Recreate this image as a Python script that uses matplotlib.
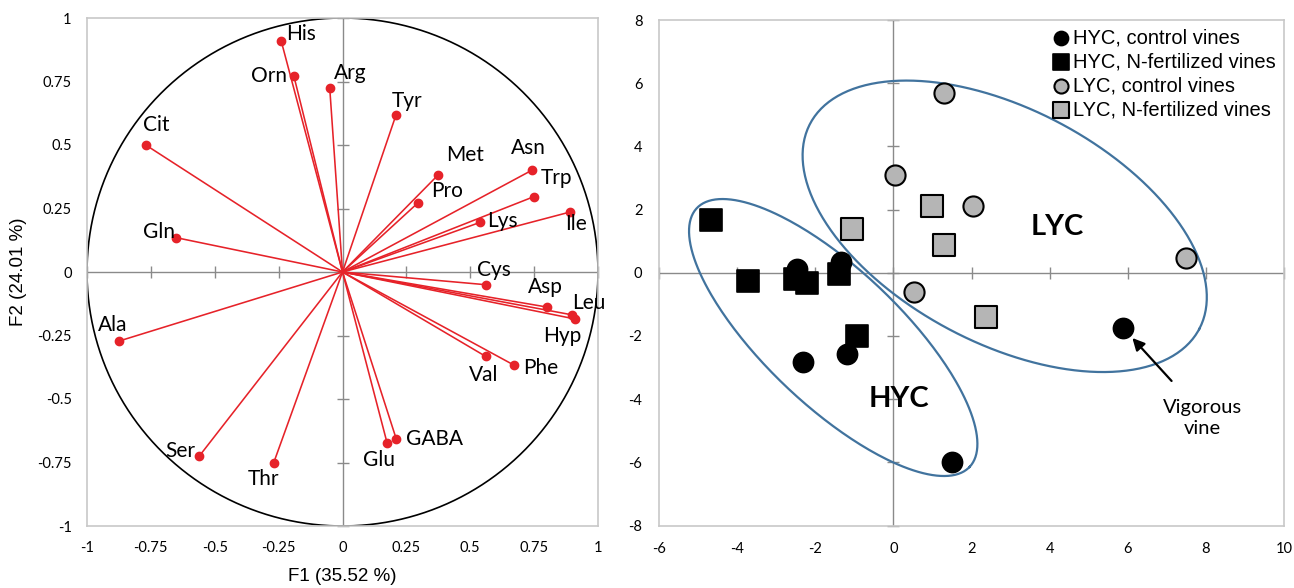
import numpy as np
import matplotlib
matplotlib.use("Agg")
import matplotlib.pyplot as plt

plt.rcParams['axes.unicode_minus'] = False

# loadings of the amino acids on F1 / F2 (correlation circle)
amino_acids = ['His', 'Orn', 'Arg', 'Tyr', 'Cit', 'Met', 'Asn', 'Pro', 'Trp', 'Lys', 'Ile', 'Gln',
               'Cys', 'Asp', 'Leu', 'Hyp', 'Val', 'Phe', 'Ala', 'Ser', 'Thr', 'Glu', 'GABA']
f1_loadings = [-0.24, -0.19, -0.05, 0.21, -0.77, 0.375, 0.74, 0.295, 0.75, 0.54, 0.89, -0.65,
               0.56, 0.80, 0.90, 0.91, 0.56, 0.67, -0.875, -0.56, -0.27, 0.175, 0.21]
f2_loadings = [0.91, 0.77, 0.725, 0.62, 0.50, 0.383, 0.40, 0.272, 0.297, 0.196, 0.236, 0.135,
               -0.05, -0.138, -0.169, -0.185, -0.332, -0.366, -0.272, -0.724, -0.753, -0.675, -0.656]

# scores of the vines on F1 / F2
hyc_control_x = [-2.46, -1.34, -2.31, -1.2, 1.49, 5.88]
hyc_control_y = [0.12, 0.35, -2.81, -2.57, -5.98, -1.74]
hyc_nfert_x = [-4.66, -3.72, -2.52, -2.2, -1.38, -0.93]
hyc_nfert_y = [1.67, -0.26, -0.21, -0.34, -0.04, -1.99]
lyc_control_x = [1.29, 0.03, 2.03, 7.48, 0.54]
lyc_control_y = [5.70, 3.09, 2.1, 0.47, -0.62]
lyc_nfert_x = [-1.06, 0.98, 1.29, 2.38]
lyc_nfert_y = [1.37, 2.12, 0.88, -1.39]

series_labels = ['HYC, control vines', 'HYC, N-fertilized vines',
                 'LYC, control vines', 'LYC, N-fertilized vines']

circle_ticks = np.arange(-1, 1.01, 0.25)
score_ticks = np.arange(-8, 8.1, 2)
score_xticks = np.arange(-6, 10.1, 2)

# where each loading label sits relative to its point (pixels)
label_offsets = {
    'His': (20, 7), 'Orn': (-25, 0), 'Arg': (21, 15), 'Tyr': (11, 14), 'Cit': (10, 20),
    'Met': (27, 20), 'Asn': (-3, 22), 'Pro': (29, 12), 'Trp': (22, 19), 'Lys': (22, 1),
    'Ile': (6, -12), 'Gln': (-17, 6), 'Cys': (8, 15), 'Asp': (-2, 20), 'Leu': (16, 12),
    'Hyp': (-13, -17), 'Val': (-2, -19), 'Phe': (27, -3), 'Ala': (-6, 16), 'Ser': (-19, 5),
    'Thr': (-10, -16), 'Glu': (-8, -17), 'GABA': (38, 0),
}

RED = '#E62229'
FRAME = '#C8C8C8'
ZERO = '#8A8A8A'
BLUE = '#41739E'
GREY_FILL = '#B5B5B5'
TICK_FONT = dict(family='Lato', size=10.5)


def excel_style(ax, xticks, yticks, tick_len):
    for s in ax.spines.values():
        s.set_color(FRAME)
        s.set_linewidth(1.2)
    ax.axhline(0, color=ZERO, lw=1.0, zorder=1)
    ax.axvline(0, color=ZERO, lw=1.0, zorder=1)
    ax.plot(np.zeros(len(yticks)), yticks, ls='none', marker='_', ms=tick_len, mew=1.0,
            color=ZERO, zorder=1, clip_on=False)
    ax.plot(xticks, np.zeros(len(xticks)), ls='none', marker='|', ms=tick_len, mew=1.0,
            color=ZERO, zorder=1, clip_on=False)
    ax.set_xticks(xticks)
    ax.set_yticks(yticks)
    ax.set_xticklabels(['{:g}'.format(v) for v in xticks], fontdict=TICK_FONT)
    ax.set_yticklabels(['{:g}'.format(v) for v in yticks], fontdict=TICK_FONT)
    ax.tick_params(length=0, pad=11)


def tilted_ellipse(ax, cx, cy, a_px, b_px, angle_deg, **kw):
    t = np.linspace(0, 2 * np.pi, 300)
    th = np.radians(angle_deg)
    dx = a_px * np.cos(t) * np.cos(th) - b_px * np.sin(t) * np.sin(th)
    dy = a_px * np.cos(t) * np.sin(th) + b_px * np.sin(t) * np.cos(th)
    centre = ax.transData.transform((cx, cy))
    pts = ax.transData.inverted().transform(np.column_stack([centre[0] + dx, centre[1] + dy]))
    ax.plot(pts[:, 0], pts[:, 1], color=BLUE, lw=1.6, zorder=2)


fig = plt.figure(figsize=(12.94, 5.88), dpi=100)

# ---- correlation circle ----
ax1 = fig.add_axes([87 / 1294, 1 - 526 / 588, 511 / 1294, 508 / 588])
ax1.set_xlim(-1, 1)
ax1.set_ylim(-1, 1)
excel_style(ax1, circle_ticks, circle_ticks, 8)

theta = np.linspace(0, 2 * np.pi, 400)
ax1.plot(np.cos(theta), np.sin(theta), color='black', lw=1.2, zorder=2)

for name, x, y in zip(amino_acids, f1_loadings, f2_loadings):
    ax1.plot([0, x], [0, y], color=RED, lw=1.15, zorder=3)
    ax1.plot(x, y, 'o', color=RED, ms=6, zorder=4)
    ax1.annotate(name, (x, y), xytext=label_offsets[name], textcoords='offset pixels',
                 ha='center', va='center', family='Lato', fontsize=15, zorder=5)

ax1.set_xlabel('F1 (35.52 %)', family='Liberation Sans', fontsize=13.5, va='center')
ax1.xaxis.set_label_coords(0.5, -0.1)
ax1.set_ylabel('F2 (24.01 %)', family='Liberation Sans', fontsize=13.5, va='center')
ax1.yaxis.set_label_coords(-0.135, 0.5)

# ---- score plot ----
ax2 = fig.add_axes([659 / 1294, 1 - 525.5 / 588, 625 / 1294, 505.5 / 588])
ax2.set_xlim(-6, 10)
ax2.set_ylim(-8, 8)
excel_style(ax2, score_xticks, score_ticks, 8)
ax2.tick_params(pad=12)

tilted_ellipse(ax2, 2.85, 1.47, 220, 117, -27.8)
tilted_ellipse(ax2, -1.54, -2.05, 188, 68, -43.5)

ax2.scatter(hyc_control_x, hyc_control_y, s=210, marker='o', c='black', edgecolors='black',
            linewidths=1.2, zorder=4, label=series_labels[0])
ax2.scatter(hyc_nfert_x, hyc_nfert_y, s=250, marker='s', c='black', edgecolors='black',
            linewidths=1.2, zorder=5, label=series_labels[1])
ax2.scatter(lyc_control_x, lyc_control_y, s=210, marker='o', c=GREY_FILL, edgecolors='black',
            linewidths=1.5, zorder=4, label=series_labels[2])
ax2.scatter(lyc_nfert_x, lyc_nfert_y, s=250, marker='s', c=GREY_FILL, edgecolors='black',
            linewidths=1.5, zorder=4, label=series_labels[3])

ax2.text(4.2, 1.45, 'LYC', family='Lato', weight='bold', fontsize=21, ha='center', va='center')
ax2.text(0.14, -4.0, 'HYC', family='Lato', weight='bold', fontsize=21, ha='center', va='center')

ax2.annotate('', xy=(6.07, -2.0), xytext=(7.17, -3.49),
             arrowprops=dict(arrowstyle='-|>', color='black', lw=1.6, mutation_scale=18))
ax2.text(7.92, -4.6, 'Vigorous\nvine', family='Lato', fontsize=14.5, ha='center', va='center',
         linespacing=1.25)

leg = ax2.legend(loc='upper right', frameon=False, markerscale=0.7, handletextpad=0.15,
                 borderaxespad=0.1, borderpad=0.3, labelspacing=0.25, handlelength=0.9,
                 prop=dict(family='Liberation Sans', size=14.5))

fig.savefig('out.png', dpi=100)
